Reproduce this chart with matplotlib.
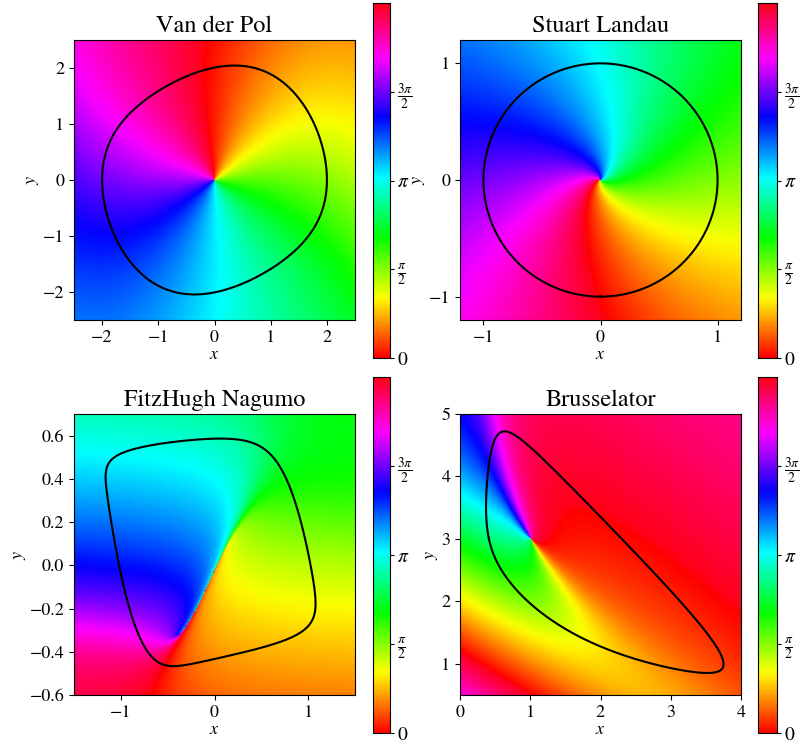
import numpy as np
import matplotlib
matplotlib.use("Agg")
import matplotlib.pyplot as plt

TWO_PI = 2 * np.pi

# model parameters (fitted so the limit cycles match the picture)
VDP_MU = 0.2
SL_TWIST = 0.33
SL_OFFSET = 1.6
FHN_EPS = 0.1
FHN_B = 0.216
FHN_C = 0.476
BRU_A = 1.0
BRU_B = 3.0

TITLES = ["Van der Pol", "Stuart Landau", "FitzHugh Nagumo", "Brusselator"]
XLIMS = [(-2.5, 2.5), (-1.2, 1.2), (-1.5, 1.5), (0.0, 4.0)]
YLIMS = [(-2.5, 2.5), (-1.2, 1.2), (-0.6, 0.7), (0.5, 5.0)]
XTICKS = [[-2, -1, 0, 1, 2], [-1, 0, 1], [-1, 0, 1], [0, 1, 2, 3, 4]]
YTICKS = [[-2, -1, 0, 1, 2], [-1, 0, 1], [-0.6, -0.4, -0.2, 0.0, 0.2, 0.4, 0.6], [1, 2, 3, 4, 5]]
# point on each cycle where the phase is zero (red)
PHASE_REF = [(-0.17, 2.0), None, (-0.53, -0.46), (2.05, 3.25)]
CBAR_TICKS = [0, np.pi / 2, np.pi, 3 * np.pi / 2]
CBAR_LABELS = [r"$0$", r"$\frac{\pi}{2}$", r"$\pi$", r"$\frac{3\pi}{2}$"]

plt.rcParams["font.family"] = "STIXGeneral"
plt.rcParams["mathtext.fontset"] = "stix"


def rk4(f, x, y, dt):
    k1x, k1y = f(x, y)
    k2x, k2y = f(x + 0.5 * dt * k1x, y + 0.5 * dt * k1y)
    k3x, k3y = f(x + 0.5 * dt * k2x, y + 0.5 * dt * k2y)
    k4x, k4y = f(x + dt * k3x, y + dt * k3y)
    return (x + dt / 6 * (k1x + 2 * k2x + 2 * k3x + k4x),
            y + dt / 6 * (k1y + 2 * k2y + 2 * k3y + k4y))


def make_vdp(mu):
    return lambda x, y: (y, mu * (1 - x * x) * y - x)


def make_fhn(eps, b, c):
    return lambda x, y: (x - x ** 3 - y, eps * (x + b - c * y))


def make_bru(a, b):
    def f(x, y):
        x2y = x * x * y
        return a - (b + 1) * x + x2y, b * x - x2y
    return f


def fhn_fixed_point(b, c):
    roots = np.roots([c, 0.0, 1.0 - c, b])
    xr = roots[np.argmin(np.abs(roots.imag))].real
    return xr, xr - xr ** 3


def limit_cycle(f, start, fp, dt=0.005, transient=150.0, record=150.0):
    x, y = start
    for _ in range(int(transient / dt)):
        x, y = rk4(f, x, y, dt)
    xs, ys = [x], [y]
    for _ in range(int(record / dt)):
        x, y = rk4(f, x, y, dt)
        xs.append(x)
        ys.append(y)
    xs, ys = np.array(xs), np.array(ys)
    ang = np.arctan2(ys - fp[1], xs - fp[0])
    jumps = np.where(np.abs(np.diff(ang)) > np.pi)[0]
    i1, i2 = jumps[0] + 1, jumps[1] + 1
    cx, cy = xs[i1:i2 + 1], ys[i1:i2 + 1]
    period = (i2 - i1) * dt
    phase = TWO_PI * np.arange(len(cx)) / (i2 - i1)
    return cx, cy, phase, period


def phase_field(f, cycle, fp, ref, xlim, ylim, n=200, periods=8, m=300):
    # asymptotic phase: run every grid point for whole periods, read phase on the cycle
    cx, cy, cph, period = cycle
    X, Y = np.meshgrid(np.linspace(*xlim, n), np.linspace(*ylim, n))
    x, y = X.copy(), Y.copy()
    dt = period / m
    for _ in range(periods * m):
        x, y = rk4(f, x, y, dt)
    ang = np.unwrap(np.arctan2(cy - fp[1], cx - fp[0]))
    s = 1.0 if ang[-1] > ang[0] else -1.0
    A = np.maximum.accumulate(s * ang)
    q = s * np.arctan2(y - fp[1], x - fp[0])
    q = A[0] + np.mod(q - A[0], TWO_PI)
    ph = np.interp(q, A, cph)
    ph0 = cph[np.argmin((cx - ref[0]) ** 2 + (cy - ref[1]) ** 2)]
    return np.mod(ph - ph0, TWO_PI)


fields, cycles = [], []

f = make_vdp(VDP_MU)
cyc = limit_cycle(f, (2.0, 0.0), (0.0, 0.0))
fields.append(phase_field(f, cyc, (0.0, 0.0), PHASE_REF[0], XLIMS[0], YLIMS[0], periods=16, m=150))
cycles.append(cyc)

X, Y = np.meshgrid(np.linspace(*XLIMS[1], 300), np.linspace(*YLIMS[1], 300))
R = np.hypot(X, Y)
fields.append(np.mod(np.arctan2(Y, X) - SL_TWIST * np.log(R) + SL_OFFSET, TWO_PI))
t = np.linspace(-np.pi / 2, 1.5 * np.pi, 400)
cycles.append((np.cos(t), np.sin(t)))

fp = fhn_fixed_point(FHN_B, FHN_C)
f = make_fhn(FHN_EPS, FHN_B, FHN_C)
cyc = limit_cycle(f, (1.0, 0.0), fp)
fields.append(phase_field(f, cyc, fp, PHASE_REF[2], XLIMS[2], YLIMS[2], periods=6, m=300))
cycles.append(cyc)

fp = (BRU_A, BRU_B / BRU_A)
f = make_bru(BRU_A, BRU_B)
cyc = limit_cycle(f, (2.0, 2.0), fp)
fields.append(phase_field(f, cyc, fp, PHASE_REF[3], XLIMS[3], YLIMS[3], periods=8, m=400))
cycles.append(cyc)

W, H = 800, 745
fig = plt.figure(figsize=(W / 100, H / 100), dpi=100)


def rect(l, t, r, b):
    return [l / W, (H - b) / H, (r - l) / W, (b - t) / H]


AX_BOXES = [(74, 40, 355, 320), (460, 40, 741, 320), (74, 414, 355, 695), (460, 414, 741, 695)]
CB_BOXES = [(373, 3, 390, 358), (758, 3, 777, 358), (373, 377, 390, 733), (758, 377, 777, 733)]

for i in range(4):
    ax = fig.add_axes(rect(*AX_BOXES[i]))
    im = ax.imshow(fields[i], origin="lower", extent=[*XLIMS[i], *YLIMS[i]], cmap="hsv",
                   vmin=0, vmax=TWO_PI, aspect="auto", interpolation="bilinear",
                   interpolation_stage="rgba")
    ax.plot(cycles[i][0], cycles[i][1], color="black", lw=1.5)
    ax.set_xlim(XLIMS[i])
    ax.set_ylim(YLIMS[i])
    ax.set_xticks(XTICKS[i])
    ax.set_yticks(YTICKS[i])
    ax.tick_params(labelsize=13)
    ax.set_title(TITLES[i], fontsize=17.5)
    ax.set_xlabel(r"$x$", fontsize=13, labelpad=1)
    ax.set_ylabel(r"$y$", fontsize=13, labelpad=1)
    cax = fig.add_axes(rect(*CB_BOXES[i]))
    cb = fig.colorbar(im, cax=cax, ticks=CBAR_TICKS)
    cb.ax.set_yticklabels(CBAR_LABELS)
    cb.ax.tick_params(labelsize=14, length=3, pad=2)

fig.savefig("out.png", dpi=100)
